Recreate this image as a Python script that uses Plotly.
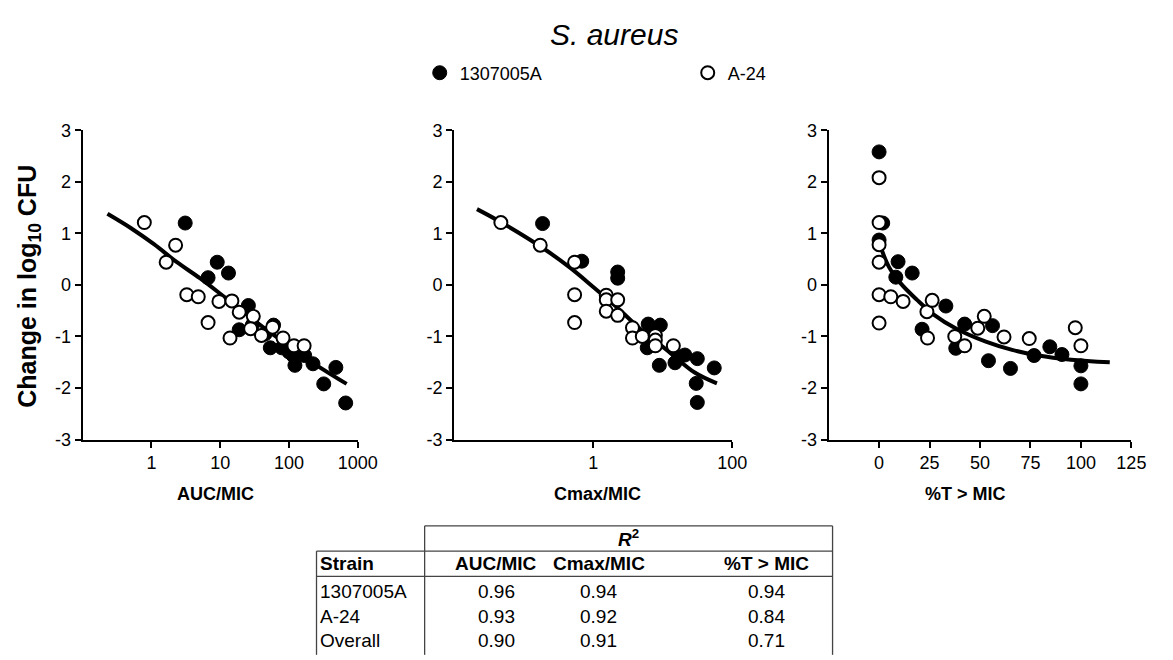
import plotly.graph_objects as go

W, H = 1173, 660
FONT = "Arial, Liberation Sans, sans-serif"

# ---------------- data ----------------
strains = ["1307005A", "A-24"]

auc_filled_x = [3.1, 9.06, 13.2, 6.67, 25.7, 18.9, 29.3, 45, 59.7, 53.5, 78.6, 100, 115, 122, 169, 223, 320, 480, 667]
auc_filled_y = [1.20, 0.44, 0.23, 0.14, -0.40, -0.87, -0.78, -0.95, -0.78, -1.22, -1.22, -1.30, -1.37, -1.56, -1.37, -1.53, -1.92, -1.60, -2.29]
auc_open_x = [0.79, 1.64, 2.25, 3.27, 4.8, 6.67, 9.6, 14.8, 13.9, 18.9, 30.3, 27.7, 39.8, 57.8, 82, 118, 166]
auc_open_y = [1.21, 0.44, 0.77, -0.19, -0.23, -0.73, -0.32, -0.31, -1.03, -0.53, -0.61, -0.85, -0.98, -0.82, -1.03, -1.18, -1.18]
auc_fit_x = [0.23, 0.507, 1.09, 2.35, 5.07, 10.9, 23.5, 50.7, 109, 235, 689]
auc_fit_y = [1.38, 1.10, 0.79, 0.44, 0.13, -0.21, -0.56, -0.90, -1.21, -1.53, -1.92]

cmax_filled_x = [0.187, 0.684, 2.25, 2.25, 6.17, 6.17, 5.98, 9.22, 8.93, 15, 20.8, 17, 31.4, 30.3, 31.4, 55, 7.5]
cmax_filled_y = [1.19, 0.46, 0.25, 0.13, -0.76, -0.95, -1.22, -0.78, -1.56, -1.51, -1.36, -1.40, -1.43, -1.91, -2.28, -1.61, -0.85]
cmax_open_x = [0.047, 0.173, 0.54, 0.54, 0.54, 1.54, 1.54, 1.54, 2.25, 2.25, 3.67, 3.67, 5.08, 7.83, 7.83, 7.83, 14.2]
cmax_open_y = [1.21, 0.77, 0.44, -0.19, -0.73, -0.20, -0.29, -0.51, -0.29, -0.59, -0.83, -1.03, -1.00, -0.98, -1.07, -1.18, -1.18]
cmax_fit_x = [0.0213, 0.048, 0.177, 0.469, 1.0, 2.13, 5.08, 12.1, 28.8, 60.1]
cmax_fit_y = [1.47, 1.21, 0.74, 0.33, -0.04, -0.42, -0.89, -1.29, -1.70, -1.91]

t_filled_x = [0, 1.8, 0, 9.4, 8.3, 16.4, 21.3, 33.1, 38, 42.4, 56.2, 54.2, 65.1, 76.8, 84.6, 90.6, 100, 100]
t_filled_y = [2.58, 1.20, 0.87, 0.45, 0.15, 0.23, -0.86, -0.41, -1.23, -0.76, -0.79, -1.47, -1.62, -1.37, -1.20, -1.35, -1.57, -1.92]
t_open_x = [0, 0, 0, 0, 0, 0, 5.8, 11.9, 23.7, 26.3, 24, 37.5, 42.4, 48.9, 52.1, 61.9, 74.4, 97.2, 100]
t_open_y = [2.08, 1.21, 0.78, 0.44, -0.19, -0.74, -0.23, -0.32, -0.52, -0.30, -1.03, -1.00, -1.18, -0.84, -0.61, -1.01, -1.04, -0.83, -1.18]
t_fit_x = [1, 5, 10.7, 18.8, 26.9, 38.3, 52.9, 65.9, 78.9, 95.1, 114.3]
t_fit_y = [0.71, 0.34, 0.03, -0.29, -0.57, -0.85, -1.10, -1.26, -1.37, -1.45, -1.50]

x_titles = ["AUC/MIC", "Cmax/MIC", "%T > MIC"]
y_ticks = [-3, -2, -1, 0, 1, 2, 3]
y_ticktext = ["-3", "-2", "-1", "0", "1", "2", "3"]
auc_ticks = [1, 10, 100, 1000]
cmax_ticks = [1, 100]
t_ticks = [0, 25, 50, 75, 100, 125]

table_cols = ["AUC/MIC", "Cmax/MIC", "%T > MIC"]
table_rows = ["1307005A", "A-24", "Overall"]
table_r2 = [["0.96", "0.94", "0.94"],
            ["0.93", "0.92", "0.84"],
            ["0.90", "0.91", "0.71"]]

# ---------------- helpers ----------------
def px_x(p):
    return p / W

def px_y(p):
    return 1 - p / H

fig = go.Figure()

filled_marker = dict(size=14, color="black", line=dict(color="black", width=1))
open_marker = dict(size=13, color="white", line=dict(color="black", width=2))

panels = [
    (auc_filled_x, auc_filled_y, auc_open_x, auc_open_y, auc_fit_x, auc_fit_y, "x", "y"),
    (cmax_filled_x, cmax_filled_y, cmax_open_x, cmax_open_y, cmax_fit_x, cmax_fit_y, "x2", "y2"),
    (t_filled_x, t_filled_y, t_open_x, t_open_y, t_fit_x, t_fit_y, "x3", "y3"),
]
for i, (fx, fy, ox, oy, lx, ly, xa, ya) in enumerate(panels):
    fig.add_trace(go.Scatter(x=lx, y=ly, mode="lines", line=dict(color="black", width=4, shape="spline"),
                             xaxis=xa, yaxis=ya, showlegend=False, hoverinfo="skip"))
    fig.add_trace(go.Scatter(x=fx, y=fy, mode="markers", marker=filled_marker, name=strains[0],
                             xaxis=xa, yaxis=ya, showlegend=(i == 0), legendrank=1))
    fig.add_trace(go.Scatter(x=ox, y=oy, mode="markers", marker=open_marker, name=strains[1],
                             xaxis=xa, yaxis=ya, showlegend=(i == 0), legendrank=2))

ytop, ybot = 124, 443
ydom = [px_y(ybot), px_y(ytop)]
common_axis = dict(showline=True, linecolor="black", linewidth=2, ticks="outside", ticklen=6,
                   tickwidth=2, tickcolor="black", showgrid=False, zeroline=False,
                   tickfont=dict(family=FONT, size=18, color="black"))

yaxis_common = dict(common_axis, range=[-3, 3], tickvals=y_ticks, ticktext=y_ticktext, domain=ydom)

fig.update_layout(
    width=W, height=H, margin=dict(l=0, r=0, t=0, b=0),
    paper_bgcolor="white", plot_bgcolor="white",
    font=dict(family=FONT, color="black"),
    xaxis=dict(common_axis, type="log", range=[-1, 3], tickvals=auc_ticks,
               ticktext=[str(v) for v in auc_ticks], domain=[px_x(84), px_x(364)], anchor="y"),
    xaxis2=dict(common_axis, type="log", range=[-2, 2], tickvals=cmax_ticks,
                ticktext=[str(v) for v in cmax_ticks], domain=[px_x(462), px_x(745)], anchor="y2"),
    xaxis3=dict(common_axis, range=[-25, 125], tickvals=t_ticks, domain=[px_x(843), px_x(1151)], anchor="y3"),
    yaxis=dict(yaxis_common, anchor="x"),
    yaxis2=dict(yaxis_common, anchor="x2"),
    yaxis3=dict(yaxis_common, anchor="x3"),
    showlegend=True,
    legend=dict(orientation="h", x=px_x(427), y=px_y(65), xanchor="left", yanchor="middle",
                entrywidth=223, entrywidthmode="pixels", font=dict(family=FONT, size=18, color="black"),
                bgcolor="rgba(0,0,0,0)", itemclick=False, itemdoubleclick=False),
)

def note(text, x, y, size, xanchor="center", yanchor="middle", angle=0):
    return dict(text=text, x=px_x(x), y=px_y(y), xref="paper", yref="paper", showarrow=False,
                xanchor=xanchor, yanchor=yanchor, textangle=angle,
                font=dict(family=FONT, size=size, color="black"))

ann = []
ann.append(note("<i>S. aureus</i>", 625, 25, 30))
ann.append(note("<b>Change in log<sub>10</sub> CFU</b>", 30, 285, 25, angle=-90))
for t, cx in zip(x_titles, [219, 608, 982]):
    ann.append(note(f"<b>{t}</b>", cx, 499, 18))

# ---------------- table ----------------
tl, tv, tr = 322, 432, 847
ty0, ty1, ty2 = 532, 558, 584
shapes = []
lc = dict(color="#444", width=1.3)
def hline(y, x0, x1):
    shapes.append(dict(type="line", xref="paper", yref="paper", x0=px_x(x0), x1=px_x(x1),
                       y0=px_y(y), y1=px_y(y), line=lc))
def vline(x, y0, y1):
    shapes.append(dict(type="line", xref="paper", yref="paper", x0=px_x(x), x1=px_x(x),
                       y0=px_y(y0), y1=px_y(y1), line=lc))
hline(ty0, tv, tr)
hline(ty1, tl, tr)
hline(ty2, tl, tr)
vline(tl, ty1, H + 5)
vline(tv, ty0, H + 5)
vline(tr, ty0, H + 5)

col_cx = [505, 609, 780]
TS = 19
ann.append(note("<b><i>R</i></b><sup><b>2</b></sup>", (tv + tr) / 2, 545, TS))
ann.append(note("<b>Strain</b>", 324, 571, TS, xanchor="left"))
for c, cx in zip(table_cols, col_cx):
    ann.append(note(f"<b>{c}</b>", cx, 571, TS))
row_cy = [600, 625, 650]
for r, cy, vals in zip(table_rows, row_cy, table_r2):
    ann.append(note(r, 324, cy, TS, xanchor="left"))
    for v, cx in zip(vals, col_cx):
        ann.append(note(v, cx, cy, TS))

fig.update_layout(annotations=ann, shapes=shapes)
fig.write_html("out.html")
